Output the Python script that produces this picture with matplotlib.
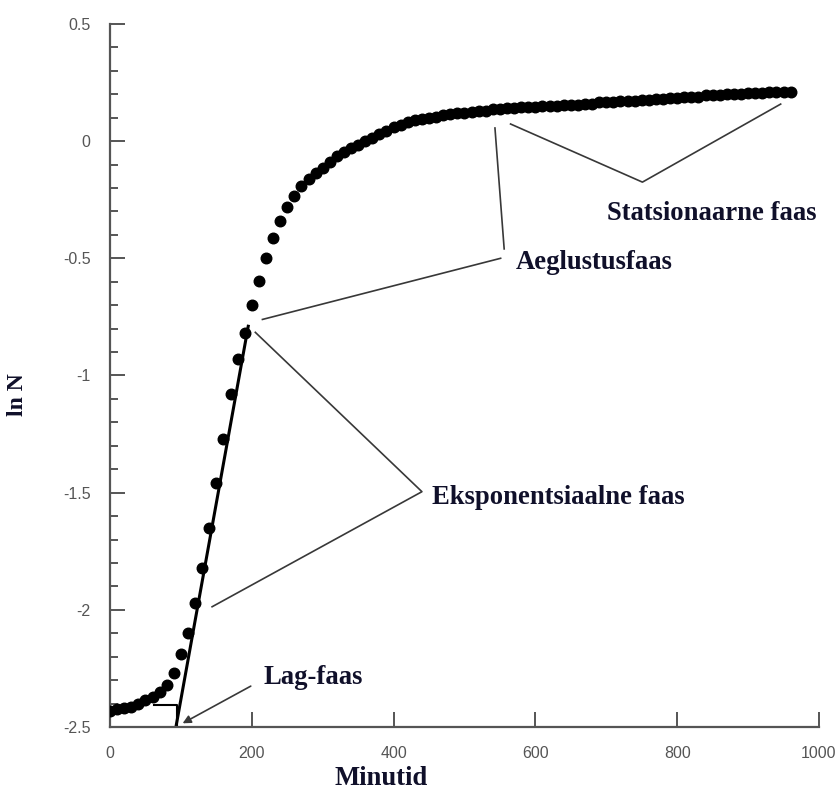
import matplotlib
matplotlib.use('Agg')
import matplotlib.pyplot as plt
import numpy as np
from matplotlib.ticker import MultipleLocator

# andmed: aeg (min) ja ln N
minutid = list(range(0, 970, 10))
ln_n = [-2.43, -2.425, -2.42, -2.415, -2.40, -2.385, -2.37, -2.35, -2.32, -2.27,
        -2.19, -2.10, -1.97, -1.82, -1.65, -1.46, -1.27, -1.08, -0.93, -0.82,
        -0.70, -0.595, -0.50, -0.415, -0.34, -0.28, -0.235, -0.19, -0.16, -0.135,
        -0.115, -0.09, -0.065, -0.045, -0.03, -0.015, 0.0, 0.015, 0.03, 0.045,
        0.06, 0.07, 0.08, 0.09, 0.095, 0.10, 0.105, 0.11, 0.115, 0.12,
        0.12, 0.125, 0.13, 0.13, 0.135, 0.135, 0.14, 0.14, 0.145, 0.145,
        0.145, 0.15, 0.15, 0.15, 0.155, 0.155, 0.155, 0.16, 0.16, 0.165,
        0.165, 0.165, 0.17, 0.17, 0.17, 0.175, 0.175, 0.18, 0.18, 0.185,
        0.185, 0.19, 0.19, 0.19, 0.195, 0.195, 0.195, 0.2, 0.2, 0.2,
        0.205, 0.205, 0.205, 0.21, 0.21, 0.21, 0.21]

# eksponentsiaalse faasi sirge ja lag-faasi abijooned
fit_x = [93, 195]
fit_y = [-2.5, -0.79]
lag_x = [62, 94, 94]
lag_y = [-2.406, -2.406, -2.5]

# tekstid ja viitejooned (x, y)
labels = ['Lag-faas', 'Eksponentsiaalne faas', 'Aeglustusfaas', 'Statsionaarne faas']
label_pos = [(216, -2.29), (454, -1.52), (572, -0.52), (701, -0.31)]
lag_arrow = [(202, -2.32), (99, -2.49)]
pointer_lines = [
    [(205, -0.816), (440, -1.496), (144, -1.987)],
    [(215, -0.761), (551, -0.50)],
    [(556, -0.46), (543, 0.056)],
    [(565, 0.073), (751, -0.175), (946, 0.158)],
]

fig = plt.figure(figsize=(8.39, 7.98), dpi=100)
ax = fig.add_axes([0.1311, 0.0890, 0.845, 0.881])

ax.plot(minutid, ln_n, 'o', color='black', markersize=7.6, zorder=3)
ax.plot(fit_x, fit_y, color='black', linewidth=2.2, zorder=2)
ax.plot(lag_x, lag_y, color='black', linewidth=1.5, zorder=2)

for pts in pointer_lines:
    xs, ys = zip(*pts)
    ax.plot(xs, ys, color='#383838', linewidth=1.2, zorder=1)

ax.annotate('', xy=lag_arrow[1], xytext=lag_arrow[0],
            arrowprops=dict(arrowstyle='-|>', color='#383838', lw=1.2,
                            mutation_scale=12))

serif = 'Liberation Serif'
for txt, (x, y) in zip(labels, label_pos):
    ax.text(x, y, txt, fontsize=19.2, fontweight='bold', family=serif,
            color='#10102a', ha='left', va='center')

ax.set_xlim(0, 1000)
ax.set_ylim(-2.5, 0.5)
ax.xaxis.set_major_locator(MultipleLocator(200))
ax.yaxis.set_minor_locator(MultipleLocator(0.1))
ax.set_yticks(np.arange(-2.5, 0.51, 0.5))
ax.set_yticklabels(['-2.5', '-2', '-1.5', '-1', '-0.5', '0', '0.5'])

for s in ['top', 'right']:
    ax.spines[s].set_visible(False)
for s in ['left', 'bottom']:
    ax.spines[s].set_color('#555555')
    ax.spines[s].set_linewidth(1.6)

ax.tick_params(axis='both', which='major', direction='in', length=11, width=1.4,
               color='#555555', labelcolor='#555555', labelsize=11.5,
               labelfontfamily='Liberation Sans', pad=14)
ax.tick_params(axis='y', which='minor', direction='in', length=6, width=1.4,
               color='#555555')

fig.text(0.021, 0.506, 'ln N', rotation=90, fontsize=17, fontweight='bold',
         family=serif, color='#10102a', ha='center', va='center')
fig.text(0.454, 0.016, 'Minutid', fontsize=19.2, fontweight='bold',
         family=serif, color='#10102a', ha='center', va='baseline')

fig.savefig('out.png', dpi=100)
